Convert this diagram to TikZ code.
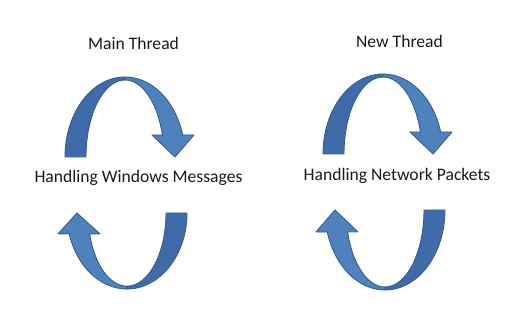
\documentclass[tikz,border=0pt]{standalone}
\usepackage{fontspec}
\setmainfont{Carlito}
\definecolor{frontblue}{HTML}{4F81BD}
\definecolor{backblue}{HTML}{3F6CA8}
\definecolor{edgeblue}{HTML}{385D8A}
\tikzset{
  carrow/.pic={
    \filldraw[fill=backblue, draw=edgeblue, line width=0.9pt, line join=round]
      (-60pt,0pt) arc[start angle=180, end angle=90, x radius=60pt, y radius=80pt]
      -- (0pt,77pt) arc[start angle=90, end angle=180, x radius=39pt, y radius=77pt] -- cycle;
    \filldraw[fill=frontblue, draw=edgeblue, line width=0.9pt, line join=round]
      (0pt,80pt) arc[start angle=90, end angle=16, x radius=60pt, y radius=80pt]
      -- (69pt,22pt) -- (50pt,0pt) -- (27pt,22pt) -- (37.38pt,22pt)
      arc[start angle=16.6, end angle=90, x radius=39pt, y radius=77pt] -- cycle;
  },
  lbl/.style={anchor=base, inner sep=0pt, font=\fontsize{17.6}{20}\selectfont, text=black!90}
}
\begin{document}
\begin{tikzpicture}[x=1pt,y=1pt]
\useasboundingbox (0,0) rectangle (531,327);
\pic (tl) at (125,170) {carrow};
\pic (tr) at (383,173) {carrow};
\pic[rotate=180, yscale=0.95] (bl) at (127,114) {carrow};
\pic[rotate=180] (br) at (385,117) {carrow};
\node[lbl] (main) at (133.5,277) {Main Thread};
\node[lbl] (new) at (399.5,279) {New Thread};
\node[lbl] (hwm) at (138.5,144) {Handling Windows Messages};
\node[lbl] (hnp) at (397,146) {Handling Network Packets};
\end{tikzpicture}
\end{document}
